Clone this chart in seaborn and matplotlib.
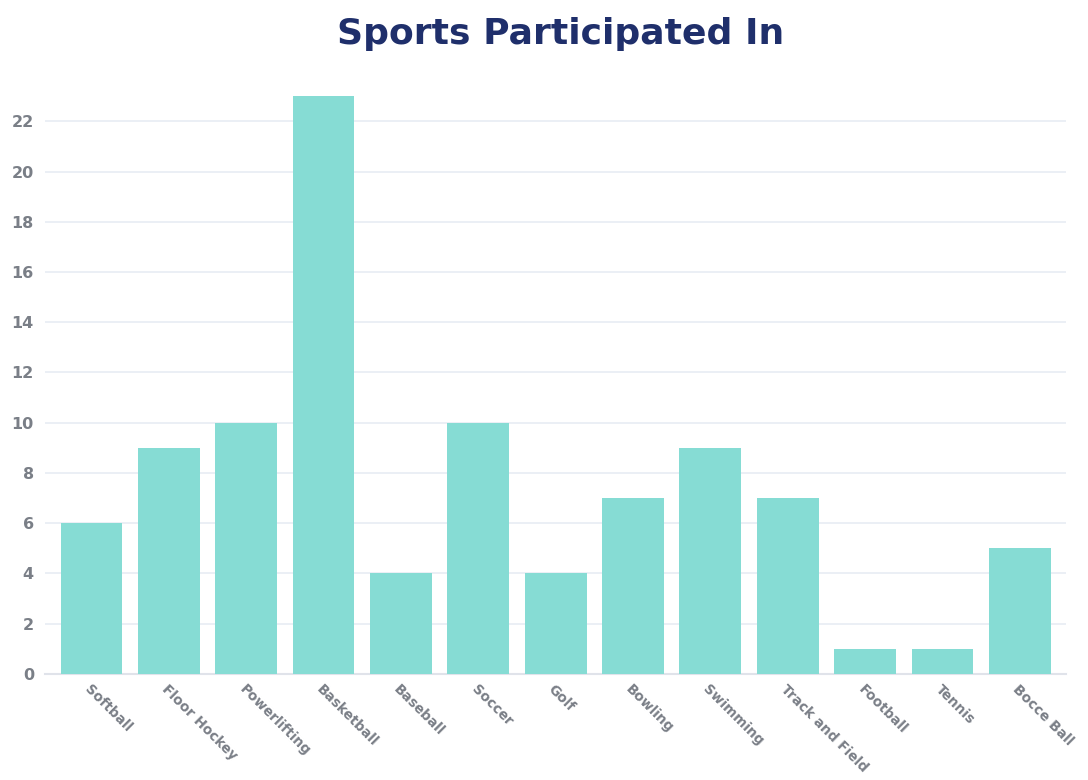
import matplotlib
matplotlib.use("Agg")
import matplotlib.pyplot as plt
import seaborn as sns
import pandas as pd

sports = ["Softball", "Floor Hockey", "Powerlifting", "Basketball", "Baseball", "Soccer",
          "Golf", "Bowling", "Swimming", "Track and Field", "Football", "Tennis", "Bocce Ball"]
counts = [6, 9, 10, 23, 4, 10, 4, 7, 9, 7, 1, 1, 5]
yticks = list(range(0, 23, 2))

sns.set_theme(style="white")
plt.rcParams['font.family'] = ['DejaVu Sans']

df = pd.DataFrame({"sport": sports, "count": counts})

fig = plt.figure(figsize=(10.88, 7.8), dpi=100)
ax = fig.add_axes([0.0414, 0.136, 0.9386, 0.76])
sns.barplot(data=df, x="sport", y="count", color="#86dcd4", saturation=1, width=0.8,
            linewidth=0, ax=ax, zorder=3)

ax.set_xlim(-0.6, 12.6)
ax.set_ylim(0, 23.6)
ax.set_yticks(yticks)
ax.grid(axis="y", color="#e8ecf3", linewidth=1.2, zorder=0)
for s in ["top", "right", "left"]:
    ax.spines[s].set_visible(False)
ax.spines["bottom"].set_color("#e0e3ea")
ax.spines["bottom"].set_linewidth(1.5)
ax.set_xlabel("")
ax.set_ylabel("")
ax.tick_params(axis="both", length=0, colors="#7a7f87")
ax.tick_params(axis="y", pad=8, labelsize=11.5)
for lbl in ax.get_yticklabels():
    lbl.set_fontweight("bold")
for lbl in ax.get_xticklabels():
    lbl.set_rotation(-45)
    lbl.set_ha("left")
    lbl.set_va("top")
    lbl.set_rotation_mode("anchor")
    lbl.set_fontweight("bold")
    lbl.set_fontsize(9.8)
ax.tick_params(axis="x", pad=6)

fig.text(0.515, 0.957, "Sports Participated In", ha="center", va="center",
         fontsize=26, fontweight="bold", color="#1f2f6b")

fig.savefig("out.png", dpi=100, facecolor="white")
